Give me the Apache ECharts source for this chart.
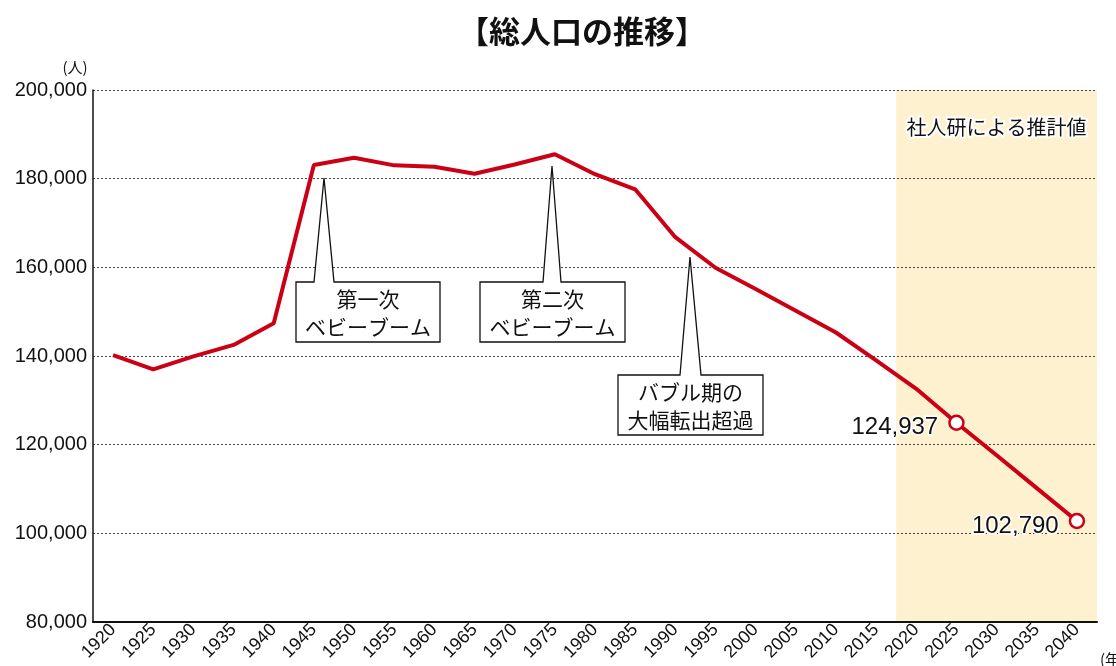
<!DOCTYPE html>
<html lang="ja">
<head>
    <meta charset="UTF-8">
    <title>総人口の推移</title>
    <script src="https://cdn.jsdelivr.net/npm/echarts@6/dist/echarts.min.js"></script>
    <style>
        html, body { margin: 0; padding: 0; background: #fff; }
        #chart { width: 1116px; height: 666px; }
    </style>
</head>
<body>
    <div id="chart"></div>
    <script>
        // 年（カテゴリ）
        var years = ['1920', '1925', '1930', '1935', '1940', '1945', '1950', '1955', '1960', '1965',
            '1970', '1975', '1980', '1985', '1990', '1995', '2000', '2005', '2010', '2015',
            '2020', '2025', '2030', '2035', '2040'];
        // 総人口（人）
        var population = [140200, 137000, 139900, 142500, 147400, 183100, 184700, 183000, 182700, 181100,
            183200, 185500, 181000, 177600, 166800, 159900, 155100, 150200, 145300, 139000,
            132600, 124937, 117600, 110200, 102790];
        // 値を表示する点
        var labeledYears = ['2025', '2040'];
        var yTicks = { min: 80000, max: 200000, step: 20000 };
        // 推計値の範囲（年）
        var estimateRange = [2017.5, 2042.5];
        // カテゴリ軸全体の年の範囲（各カテゴリの幅は5年）
        var yearSpan = [1917.5, 2042.5];

        var jpFont = '"Liberation Sans", Arial, "Noto Sans CJK JP", sans-serif';

        var lineData = population.map(function (v, i) {
            if (labeledYears.indexOf(years[i]) >= 0) {
                return {
                    value: v,
                    symbol: 'circle',
                    symbolSize: 14,
                    label: {
                        show: true,
                        position: 'left',
                        distance: 10,
                        offset: [0, 5],
                        fontSize: 24,
                        fontFamily: jpFont,
                        color: '#111',
                        textBorderColor: '#fff',
                        textBorderWidth: 3,
                        formatter: function (p) { return p.value.toLocaleString('en-US'); }
                    }
                };
            }
            return { value: v, symbol: 'none' };
        });

        // 吹き出し（三角の付いた枠）
        function callout(box, spike, lines) {
            var x0 = box[0], y0 = box[1], x1 = box[2], y1 = box[3];
            var cx = (x0 + x1) / 2;
            return [{
                type: 'polygon',
                z: 100,
                shape: {
                    points: [[x0, y0], [spike[0], y0], [spike[2], spike[3]], [spike[1], y0],
                        [x1, y0], [x1, y1], [x0, y1]]
                },
                style: { fill: '#fff', stroke: '#111', lineWidth: 1.3 }
            }, {
                type: 'text',
                z: 101,
                x: cx,
                y: (y0 + y1) / 2 + 1,
                style: {
                    text: lines.join('\n'),
                    fill: '#111',
                    font: '21px "Noto Sans CJK JP", sans-serif',
                    lineHeight: 28,
                    align: 'center',
                    verticalAlign: 'middle'
                }
            }];
        }

        var graphics = []
            .concat(callout([296, 282, 440, 342], [314, 334, 324, 178], ['第一次', 'ベビーブーム']))
            .concat(callout([480, 282, 625, 342], [543, 561, 552, 166], ['第二次', 'ベビーブーム']))
            .concat(callout([618, 375, 763, 435], [680, 701, 690, 257], ['バブル期の', '大幅転出超過']));
        graphics.push({
            type: 'text', z: 101, x: 75, y: 67,
            style: { text: '(人)', fill: '#111', font: '15px "Noto Sans CJK JP", sans-serif', align: 'center', verticalAlign: 'middle' }
        });
        graphics.push({
            type: 'text', z: 101, x: 1100, y: 659,
            style: { text: '(年)', fill: '#111', font: '15px "Noto Sans CJK JP", sans-serif', align: 'left', verticalAlign: 'middle' }
        });

        var myChart = echarts.init(document.getElementById('chart'));
        var option = {
            animation: false,
            title: {
                text: '【総人口の推移】',
                left: 577,
                top: 11,
                textAlign: 'center',
                textStyle: { fontSize: 31, fontWeight: 'bold', color: '#111', fontFamily: '"Noto Sans CJK JP", sans-serif' }
            },
            grid: { left: 93, right: 19, top: 90, bottom: 44 },
            xAxis: [{
                type: 'category',
                data: years,
                boundaryGap: true,
                axisLine: { lineStyle: { color: '#111', width: 2 } },
                axisTick: { inside: true, alignWithLabel: true, length: 6, lineStyle: { color: '#333', width: 1 } },
                axisLabel: { rotate: 45, fontSize: 18, color: '#111', margin: 5, fontFamily: jpFont, interval: 0 },
                splitLine: { show: false }
            }, {
                type: 'value',
                show: false,
                min: yearSpan[0],
                max: yearSpan[1],
                splitLine: { show: false }
            }],
            yAxis: {
                type: 'value',
                min: yTicks.min,
                max: yTicks.max,
                interval: yTicks.step,
                axisLine: { show: true, lineStyle: { color: '#111', width: 1.5 } },
                axisTick: { show: false },
                axisLabel: {
                    fontSize: 20, color: '#111', margin: 6, fontFamily: jpFont,
                    formatter: function (v) { return v.toLocaleString('en-US'); }
                },
                splitLine: { lineStyle: { color: '#444', type: [2, 2], width: 1 } }
            },
            graphic: graphics,
            series: [{
                // 推計値の背景
                type: 'custom',
                xAxisIndex: 1,
                silent: true,
                z: -1,
                data: [[estimateRange[0], estimateRange[1]]],
                renderItem: function (params, api) {
                    var p0 = api.coord([api.value(0), yTicks.max]);
                    var p1 = api.coord([api.value(1), yTicks.min]);
                    return {
                        type: 'group',
                        children: [{
                            type: 'rect',
                            shape: { x: p0[0], y: p0[1], width: p1[0] - p0[0], height: p1[1] - p0[1] },
                            style: { fill: '#fef1cf' }
                        }, {
                            type: 'text',
                            z2: 10,
                            x: (p0[0] + p1[0]) / 2,
                            y: p0[1] + 37,
                            style: {
                                text: '社人研による推計値',
                                fill: '#111',
                                font: '20px "Noto Sans CJK JP", sans-serif',
                                align: 'center',
                                verticalAlign: 'middle',
                                stroke: '#fff',
                                lineWidth: 4
                            }
                        }]
                    };
                }
            }, {
                type: 'line',
                xAxisIndex: 0,
                data: lineData,
                showSymbol: true,
                symbol: 'none',
                lineStyle: { color: '#cc0014', width: 4 },
                itemStyle: { color: '#fff', borderColor: '#cc0014', borderWidth: 2.5 },
                z: 5
            }]
        };
        myChart.setOption(option, true);
    </script>
</body>
</html>
